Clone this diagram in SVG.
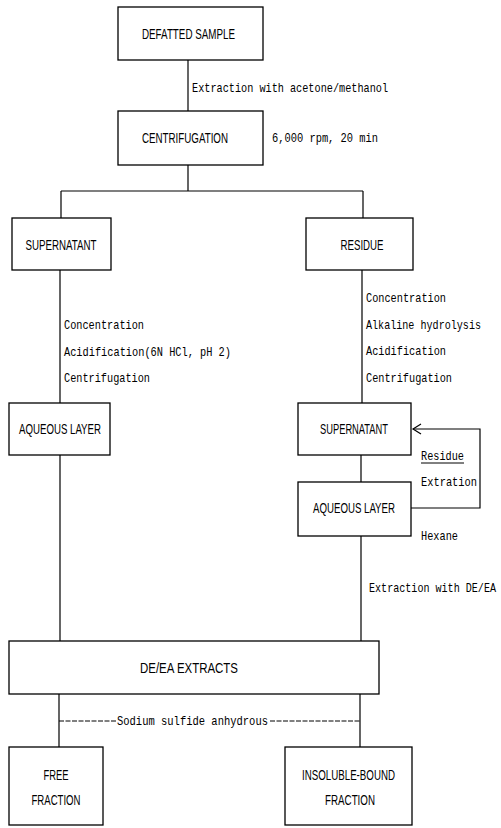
<svg xmlns="http://www.w3.org/2000/svg" width="501" height="828" viewBox="0 0 501 828">
<style>
.box{fill:#fff;stroke:#000;stroke-width:1.3}
.ln{fill:none;stroke:#000;stroke-width:1.2}
.dash{fill:none;stroke:#000;stroke-width:1;stroke-dasharray:5 1.5}
.nt{font-family:"Liberation Sans","DejaVu Sans",sans-serif;font-size:14px;fill:#000;text-anchor:middle}
.lb{font-family:"Liberation Mono","DejaVu Sans Mono",monospace;font-size:13px;fill:#000}
</style>
<defs>
<marker id="open" markerWidth="12" markerHeight="12" refX="10" refY="6" orient="auto" markerUnits="userSpaceOnUse">
<path d="M2,1 L10,6 L2,11" fill="none" stroke="#000" stroke-width="1.2"/>
</marker>
</defs>
<rect width="501" height="828" fill="#fff"/>
<g id="connectors">
<path class="ln" d="M188,60 V111"/>
<path class="ln" d="M188,165 V191 M61,191 H363 M61,191 V218 M363,191 V218"/>
<path class="ln" d="M60,270 V403 M60,455 V641"/>
<path class="ln" d="M362,270 V403 M361,455 V482 M361,536 V641"/>
<path class="ln" d="M411,508 H480 V429 H413" marker-end="url(#open)"/>
<path class="ln" d="M59,694 V747 M360,694 V747"/>
<path class="dash" d="M59,721 H116 M270,721 H360"/>
<line x1="421" y1="463" x2="464" y2="463" stroke="#000" stroke-width="1"/>
</g>
<g id="labels">
<text class="lb" x="192" y="92" textLength="196" lengthAdjust="spacingAndGlyphs">Extraction with acetone/methanol</text>
<text class="lb" x="272" y="142" textLength="106" lengthAdjust="spacingAndGlyphs">6,000 rpm, 20 min</text>
<text class="lb" x="64" y="329" textLength="80" lengthAdjust="spacingAndGlyphs">Concentration</text>
<text class="lb" x="64" y="356" textLength="167" lengthAdjust="spacingAndGlyphs">Acidification(6N HCl, pH 2)</text>
<text class="lb" x="64" y="382" textLength="86" lengthAdjust="spacingAndGlyphs">Centrifugation</text>
<text class="lb" x="366" y="302" textLength="80" lengthAdjust="spacingAndGlyphs">Concentration</text>
<text class="lb" x="366" y="329" textLength="115" lengthAdjust="spacingAndGlyphs">Alkaline hydrolysis</text>
<text class="lb" x="366" y="355" textLength="80" lengthAdjust="spacingAndGlyphs">Acidification</text>
<text class="lb" x="366" y="382" textLength="86" lengthAdjust="spacingAndGlyphs">Centrifugation</text>
<text class="lb" x="421" y="460" textLength="43" lengthAdjust="spacingAndGlyphs">Residue</text>
<text class="lb" x="421" y="486" textLength="56" lengthAdjust="spacingAndGlyphs">Extration</text>
<text class="lb" x="421" y="540" textLength="37" lengthAdjust="spacingAndGlyphs">Hexane</text>
<text class="lb" x="369" y="592" textLength="127" lengthAdjust="spacingAndGlyphs">Extraction with DE/EA</text>
<text class="lb" x="117" y="725" textLength="151" lengthAdjust="spacingAndGlyphs">Sodium sulfide anhydrous</text>
</g>
<g id="defatted-sample"><rect class="box" x="118" y="7" width="145" height="53"/><text class="nt" x="188.5" y="39" textLength="93" lengthAdjust="spacingAndGlyphs">DEFATTED SAMPLE</text></g>
<g id="centrifugation"><rect class="box" x="118" y="111" width="145" height="54"/><text class="nt" x="185" y="143" textLength="86" lengthAdjust="spacingAndGlyphs">CENTRIFUGATION</text></g>
<g id="supernatant-left"><rect class="box" x="12" y="218" width="99" height="52"/><text class="nt" x="61" y="250" textLength="71" lengthAdjust="spacingAndGlyphs">SUPERNATANT</text></g>
<g id="residue"><rect class="box" x="306" y="218" width="107" height="52"/><text class="nt" x="362" y="250" textLength="43" lengthAdjust="spacingAndGlyphs">RESIDUE</text></g>
<g id="aqueous-left"><rect class="box" x="9" y="403" width="101" height="52"/><text class="nt" x="60" y="434" textLength="82" lengthAdjust="spacingAndGlyphs">AQUEOUS LAYER</text></g>
<g id="supernatant-right"><rect class="box" x="298" y="403" width="113" height="52"/><text class="nt" x="354" y="434" textLength="68" lengthAdjust="spacingAndGlyphs">SUPERNATANT</text></g>
<g id="aqueous-right"><rect class="box" x="298" y="482" width="113" height="54"/><text class="nt" x="354" y="513" textLength="82" lengthAdjust="spacingAndGlyphs">AQUEOUS LAYER</text></g>
<g id="de-ea-extracts"><rect class="box" x="9" y="641" width="370" height="53"/><text class="nt" x="189" y="673" textLength="98" lengthAdjust="spacingAndGlyphs">DE/EA EXTRACTS</text></g>
<g id="free-fraction"><rect class="box" x="9" y="747" width="94" height="78"/><text class="nt" x="56" y="780" textLength="25" lengthAdjust="spacingAndGlyphs">FREE</text><text class="nt" x="56" y="805" textLength="49" lengthAdjust="spacingAndGlyphs">FRACTION</text></g>
<g id="insoluble-bound-fraction"><rect class="box" x="285" y="747" width="127" height="78"/><text class="nt" x="348.5" y="780" textLength="93" lengthAdjust="spacingAndGlyphs">INSOLUBLE-BOUND</text><text class="nt" x="350" y="805" textLength="50" lengthAdjust="spacingAndGlyphs">FRACTION</text></g>
</svg>
